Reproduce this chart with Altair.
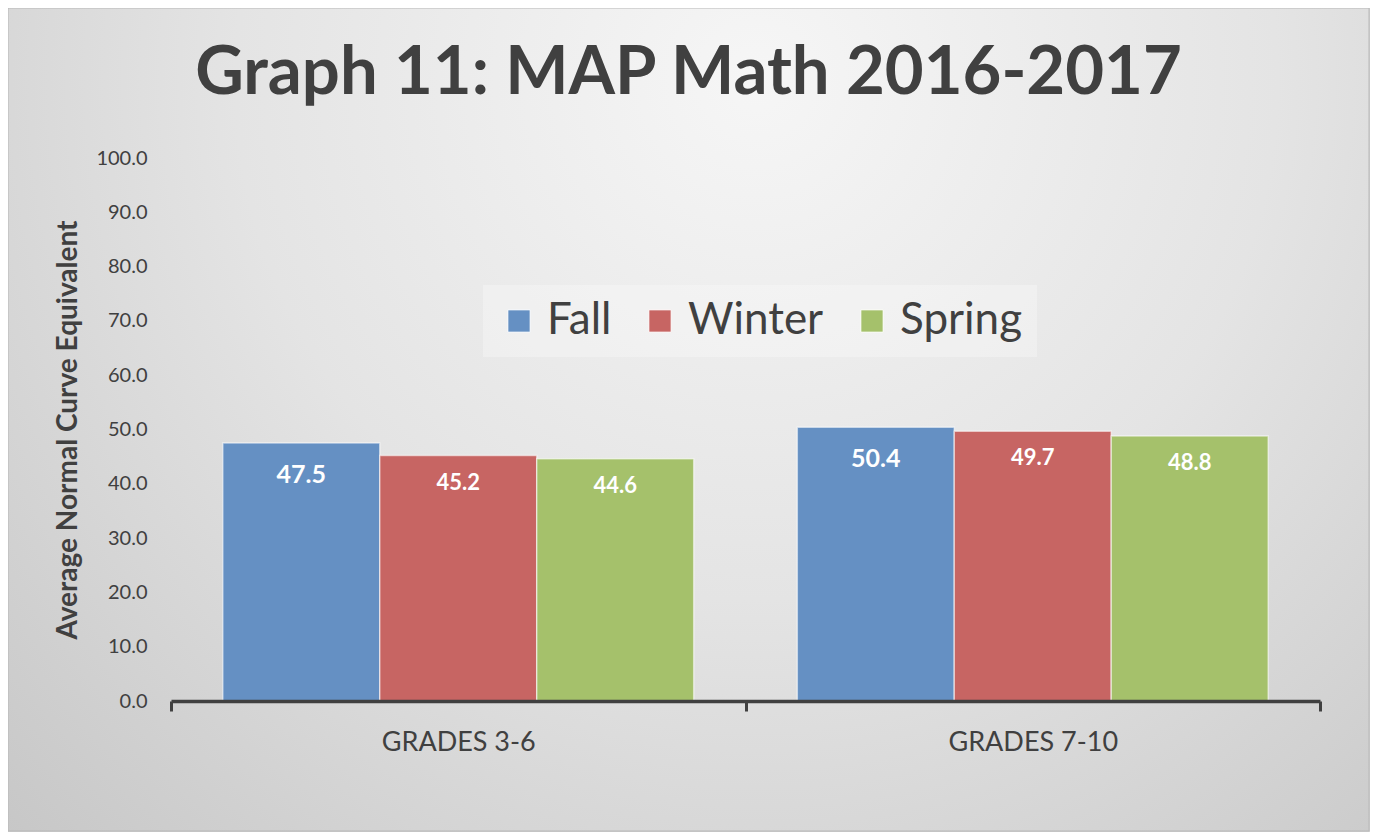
import altair as alt
import pandas as pd

grades = ["GRADES 3-6", "GRADES 7-10"]
seasons = ["Fall", "Winter", "Spring"]
fall = [47.5, 50.4]
winter = [45.2, 49.7]
spring = [44.6, 48.8]
colors = ["#6590C3", "#C76563", "#A5C16B"]
y_ticks = [0, 10, 20, 30, 40, 50, 60, 70, 80, 90, 100]

rows = []
for i, g in enumerate(grades):
    for s, vals in zip(seasons, [fall, winter, spring]):
        rows.append({"grade": g, "season": s, "value": vals[i]})
df = pd.DataFrame(rows)

W, H = 1149, 543
PL, PT, PR, PB = 163, 150, 50, 131
FONT = "Lato"

bg = alt.Chart(alt.Data(values=[{"a": 1}])).mark_rect(
    fill=alt.Gradient(
        gradient="radial",
        stops=[alt.GradientStop(color="#f6f6f6", offset=0),
               alt.GradientStop(color="#e4e4e4", offset=0.45),
               alt.GradientStop(color="#c2c2c2", offset=1)],
        x1=0.55, y1=0.25, r1=0.0, x2=0.55, y2=0.25, r2=0.85),
    stroke="#b8b8b8", strokeWidth=1,
).encode(
    x=alt.value(-PL), x2=alt.value(W + PR - 1),
    y=alt.value(-PT), y2=alt.value(H + PB - 1),
)

xenc = alt.X("grade:N", sort=grades, title=None,
             scale=alt.Scale(paddingInner=0, paddingOuter=0),
             axis=alt.Axis(domainColor="#404040", domainWidth=3.5,
                           tickBand="extent", tickSize=10, tickWidth=3,
                           tickColor="#404040", labelFontSize=27,
                           labelColor="#404040", labelFont=FONT,
                           labelBaseline="middle",
                           labelPadding=31, labelAngle=0, zindex=2))
yenc = alt.Y("value:Q", title="Average Normal Curve Equivalent",
             scale=alt.Scale(domain=[0, 100], nice=False),
             axis=alt.Axis(values=y_ticks, format=".1f", domain=False,
                           ticks=False, grid=False, labelFontSize=20,
                           labelColor="#404040", labelFont=FONT,
                           labelPadding=24, titleFont=FONT,
                           titleFontSize=28, titleFontWeight="bold",
                           titleColor="#404040", titleAngle=-90,
                           titleX=-103, titleY=H / 2,
                           titleBaseline="middle", titleAlign="center",
                           zindex=2))

xoff = alt.XOffset("season:N", sort=seasons,
                   scale=alt.Scale(paddingInner=0, paddingOuter=0.33))

bars = alt.Chart(df).mark_bar(
    stroke="#ffffff", strokeOpacity=0.55, strokeWidth=1.5
).encode(
    x=xenc,
    xOffset=xoff,
    y=yenc,
    color=alt.Color("season:N", sort=seasons,
                    scale=alt.Scale(domain=seasons, range=colors),
                    legend=alt.Legend(
                        title=None, orient="none", direction="horizontal",
                        legendX=312, legendY=127,
                        fillColor="rgba(255,255,255,0.28)", padding=14,
                        symbolType="square", symbolSize=500,
                        symbolStrokeColor="#ffffff", symbolStrokeWidth=1,
                        labelFontSize=44, labelFont=FONT,
                        labelColor="#404040", labelOffset=6,
                        columnPadding=26, labelLimit=400, zindex=3)),
)

label_enc = dict(
    x=alt.X("grade:N", sort=grades),
    xOffset=alt.XOffset("season:N", sort=seasons),
    y=alt.Y("value:Q"),
    text=alt.Text("value:Q", format=".1f"),
)

labels_fall = alt.Chart(df).transform_filter(
    "datum.season === 'Fall'"
).mark_text(
    color="white", fontWeight="bold", font=FONT, baseline="middle",
    dy=32, fontSize=25
).encode(**label_enc)

labels_other = alt.Chart(df).transform_filter(
    "datum.season !== 'Fall'"
).mark_text(
    color="white", fontWeight="bold", font=FONT, baseline="middle",
    dy=27, fontSize=22
).encode(**label_enc)

chart = alt.layer(bg, bars, labels_fall, labels_other).properties(
    width=W, height=H,
    title=alt.TitleParams(
        text="Graph 11: MAP Math 2016-2017", fontSize=67, fontWeight="bold",
        font=FONT, color="#404040", anchor="middle", dx=-57, offset=-153,
        baseline="alphabetic", frame="group", zindex=3),
    autosize=alt.AutoSizeParams(type="none"),
    padding={"left": PL, "top": PT, "right": PR, "bottom": PB},
).configure_view(stroke=None, fill=None).configure(background="#d0d0d0")

chart.save("out.html", embed_options={"renderer": "svg", "actions": False})
